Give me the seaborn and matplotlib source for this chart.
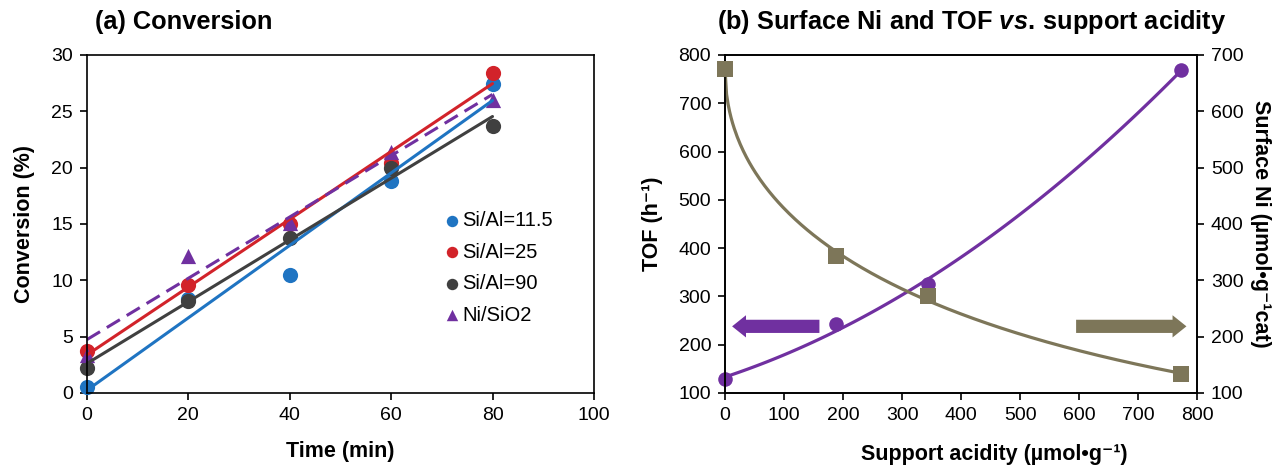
import numpy as np
import seaborn as sns
import matplotlib
matplotlib.use("Agg")
import matplotlib.pyplot as plt

sns.set_theme(style="ticks")
plt.rcParams['font.family'] = ['Liberation Sans', 'DejaVu Sans']
plt.rcParams['mathtext.fontset'] = 'custom'
plt.rcParams['mathtext.it'] = 'Liberation Sans:italic:bold'
plt.rcParams['mathtext.rm'] = 'Liberation Sans:bold'
for k in ['text.color', 'axes.labelcolor', 'xtick.color', 'ytick.color']:
    plt.rcParams[k] = 'black'

# (a) conversion vs time
time_min = [0, 20, 40, 60, 80]
conv_115 = [0.5, 8.3, 10.5, 18.8, 27.4]
conv_25 = [3.7, 9.6, 15.0, 20.4, 28.4]
conv_90 = [2.2, 8.2, 13.8, 20.0, 23.7]
conv_sio2 = [3.4, 12.2, 15.1, 21.4, 26.0]
series_labels = ['Si/Al=11.5', 'Si/Al=25', 'Si/Al=90', 'Ni/SiO2']

# (b) TOF and surface Ni vs support acidity
acidity = [0, 188, 344, 773]
tof = [128, 243, 325, 769]
surface_ni = [675, 344, 272, 133]

blue = '#1f74c2'
red = '#d2232a'
dark = '#404040'
purple = '#7030a0'
olive = '#7d7659'

fig = plt.figure(figsize=(12.88, 4.66), dpi=100)
ax = fig.add_axes([0.0675, 0.1567, 0.3936, 0.7253])
axb = fig.add_axes([0.5629, 0.1567, 0.3665, 0.7253])

tick_fs = 14
lab_fs = 15.5
title_fs = 18.3

# ---- panel (a)
conv_all = [conv_115, conv_25, conv_90, conv_sio2]
colors = [blue, red, dark, purple]
markers = ['o', 'o', 'o', '^']
for vals, c, m, lab in zip(conv_all, colors, markers, series_labels):
    ls = (0, (5, 2.6)) if m == '^' else '-'
    sns.regplot(x=time_min, y=vals, ax=ax, ci=None, color=c, marker=m,
                label=lab,
                scatter_kws={'s': 120, 'alpha': 1, 'linewidths': 0},
                line_kws={'lw': 2.2, 'ls': ls})

ax.set_xlim(0, 100)
ax.set_ylim(0, 30)
ax.set_xticks(range(0, 101, 20))
ax.set_yticks(range(0, 31, 5))
ax.set_xlabel('Time (min)', fontsize=lab_fs, fontweight='bold', labelpad=12)
ax.set_ylabel('Conversion (%)', fontsize=lab_fs, fontweight='bold', labelpad=12)
ax.tick_params(labelsize=tick_fs, length=5, width=1.2, pad=5)
leg = ax.legend(loc='center left', bbox_to_anchor=(0.665, 0.37), frameon=False,
                fontsize=14.5, markerscale=0.75, handletextpad=0.0,
                labelspacing=0.62, handlelength=1.0)
for sp in ax.spines.values():
    sp.set_linewidth(1.2)
    sp.set_color('black')

# ---- panel (b)
sns.regplot(x=acidity, y=tof, ax=axb, ci=None, order=2, color=purple,
            marker='o', truncate=True,
            scatter_kws={'s': 110, 'alpha': 1, 'linewidths': 0},
            line_kws={'lw': 2.3})

ax2 = axb.twinx()
coef = np.polyfit(np.sqrt(acidity), surface_ni, 2)
xs = np.linspace(min(acidity), max(acidity), 300)
ax2.plot(xs, np.polyval(coef, np.sqrt(xs)), color=olive, lw=2.3)
sns.scatterplot(x=acidity, y=surface_ni, ax=ax2, marker='s', color=olive,
                s=120, linewidth=0, zorder=3)

axb.set_xlim(0, 800)
axb.set_ylim(100, 800)
ax2.set_ylim(100, 700)
axb.set_xticks(range(0, 801, 100))
axb.set_yticks(range(100, 801, 100))
ax2.set_yticks(range(100, 701, 100))
axb.set_xlabel('Support acidity (µmol•g⁻¹)', fontsize=lab_fs, fontweight='bold',
               labelpad=14)
axb.xaxis.set_label_coords(0.57, -0.15)
axb.set_ylabel('TOF (h⁻¹)', fontsize=lab_fs, fontweight='bold', labelpad=11)
ax2.set_ylabel('Surface Ni (µmol•g⁻¹cat)', fontsize=lab_fs, fontweight='bold',
               rotation=270, labelpad=20)
axb.tick_params(labelsize=tick_fs, length=5, width=1.2, pad=5)
ax2.tick_params(labelsize=tick_fs, length=5, width=1.2, pad=5)
for a in (axb, ax2):
    for sp in a.spines.values():
        sp.set_linewidth(1.2)
        sp.set_color('black')

for a in (ax, axb, ax2):
    for art in a.collections + a.lines:
        art.set_clip_on(False)

arrow_style = 'simple,head_length=1.0,head_width=1.6,tail_width=0.95'
axb.annotate('', xy=(12, 238), xytext=(160, 238),
             arrowprops=dict(arrowstyle=arrow_style, color=purple, lw=0,
                             mutation_scale=10, shrinkA=0, shrinkB=0))
axb.annotate('', xy=(782, 238), xytext=(595, 238),
             arrowprops=dict(arrowstyle=arrow_style, color=olive, lw=0,
                             mutation_scale=10, shrinkA=0, shrinkB=0))

fig.text(95 / 1288, 1 - 22 / 466, '(a) Conversion', fontsize=title_fs,
         fontweight='bold', ha='left', va='center')
fig.text(972 / 1288, 1 - 22 / 466,
         r'(b) Surface Ni and TOF $\it{vs.}\,$support acidity', fontsize=title_fs,
         fontweight='bold', ha='center', va='center')

fig.savefig('out.png', dpi=100)
